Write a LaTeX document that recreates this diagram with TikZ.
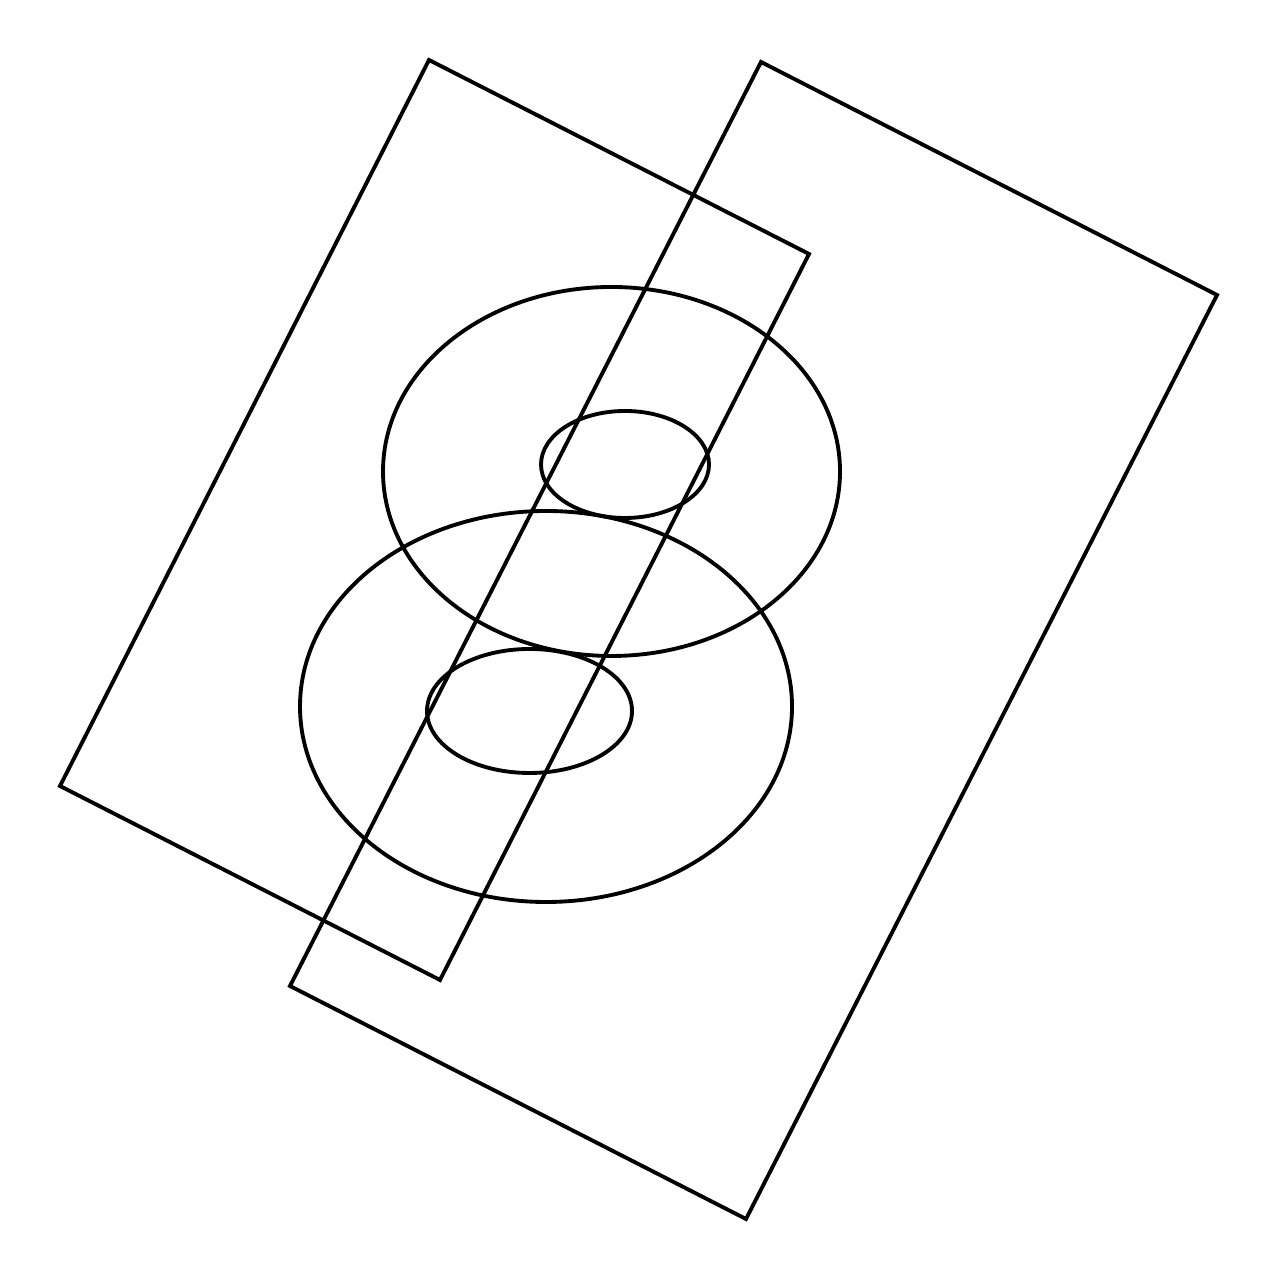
\documentclass[tikz,border=0pt]{standalone}
\begin{document}
\begin{tikzpicture}
        \useasboundingbox (0,0) rectangle (12.8,12.8);
        \draw[line width=1.1pt] (4.29,12.20) -- (8.09,10.26) -- (4.40,3.00) -- (0.60,4.94) -- cycle;
        \draw[line width=1.1pt] (7.61,12.18) -- (12.17,9.85) -- (7.46,0.61) -- (2.90,2.94) -- cycle;
        \draw[line width=1.1pt] (6.115,8.085) ellipse (2.285 and 1.845);
        \draw[line width=1.1pt] (6.25,8.155) ellipse (0.84 and 0.535);
        \draw[line width=1.1pt] (5.46,5.735) ellipse (2.46 and 1.955);
        \draw[line width=1.1pt] (5.295,5.69) ellipse (1.025 and 0.62);
    \end{tikzpicture}
\end{document}
